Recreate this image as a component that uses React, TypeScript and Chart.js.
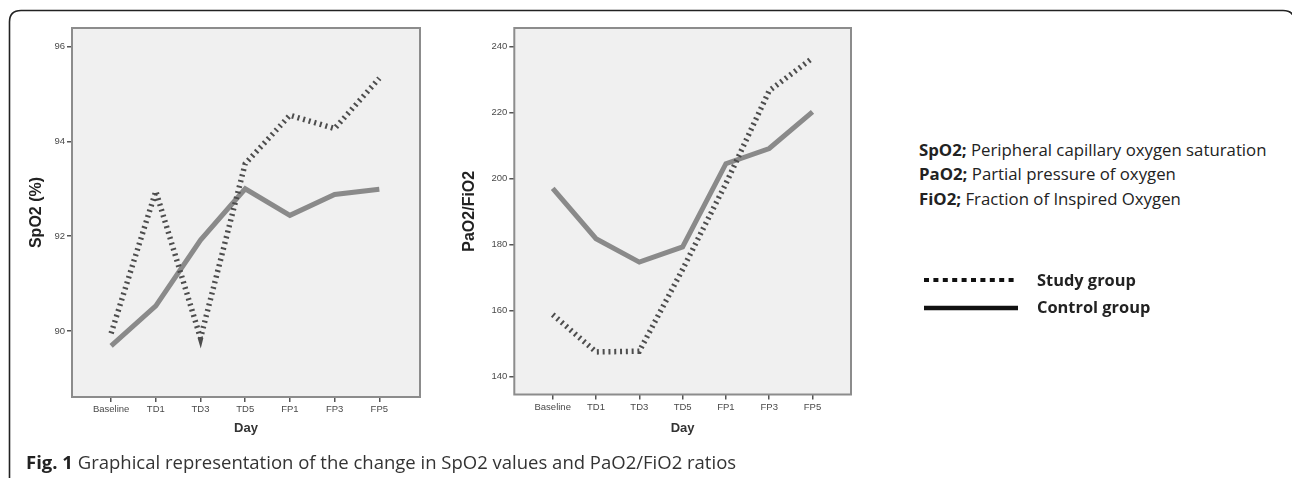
import React, { useEffect, useRef } from 'react';
import { Chart, registerables } from 'chart.js';

Chart.register(...registerables);

const days = ['Baseline', 'TD1', 'TD3', 'TD5', 'FP1', 'FP3', 'FP5'];
const spo2Study = [89.95, 92.95, 89.85, 93.53, 94.55, 94.27, 95.33];
const spo2Control = [89.69, 90.53, 91.92, 93.0, 92.44, 92.88, 92.99];
const pfStudy = [158.8, 147.5, 147.7, 172.5, 198.5, 226.6, 236.5];
const pfControl = [197.0, 181.8, 174.7, 179.3, 204.5, 209.1, 220.2];
const spo2Ticks = [90, 92, 94, 96];
const pfTicks = [140, 160, 180, 200, 220, 240];

const tickFont = { family: '"Liberation Sans", Arial, sans-serif', size: 9.5 };
const titleFontFamily = '"Liberation Sans", Arial, sans-serif';

const plotFrame = {
  id: 'plotFrame',
  beforeDatasetsDraw(chart: any) {
    const { ctx, chartArea: a } = chart;
    ctx.save();
    ctx.fillStyle = '#f0f0f0';
    ctx.fillRect(a.left, a.top, a.right - a.left, a.bottom - a.top);
    ctx.strokeStyle = '#8c8c8c';
    ctx.lineWidth = 2;
    ctx.strokeRect(a.left, a.top, a.right - a.left, a.bottom - a.top);
    ctx.restore();
  },
};

interface Opts {
  study: number[];
  control: number[];
  yTicks: number[];
  yMin: number;
  yMax: number;
  xMin: number;
  xMax: number;
  yTitle: string;
  yWidth: number;
  yTitlePad: number;
  xHeight: number;
  padRight: number;
}

function makeConfig(o: Opts): any {
  return {
    type: 'line',
    data: {
      datasets: [
        {
          label: 'Study group',
          data: o.study.map((v, i) => ({ x: i, y: v })),
          borderColor: '#4d4d4d',
          borderWidth: 5.5,
          borderDash: [2, 3.8],
          borderCapStyle: 'butt',
          borderJoinStyle: 'miter',
          pointRadius: 0,
          tension: 0,
          fill: false,
        },
        {
          label: 'Control group',
          data: o.control.map((v, i) => ({ x: i, y: v })),
          borderColor: '#8a8a8a',
          borderWidth: 5,
          borderCapStyle: 'butt',
          borderJoinStyle: 'miter',
          pointRadius: 0,
          tension: 0,
          fill: false,
        },
      ],
    },
    options: {
      animation: false,
      responsive: false,
      maintainAspectRatio: false,
      layout: { padding: { top: 28, right: o.padRight, left: 0, bottom: 0 } },
      plugins: { legend: { display: false }, tooltip: { enabled: false } },
      scales: {
        x: {
          type: 'linear',
          min: o.xMin,
          max: o.xMax,
          afterBuildTicks: (s: any) => {
            s.ticks = days.map((_, i) => ({ value: i }));
          },
          afterFit: (s: any) => {
            s.height = o.xHeight;
          },
          ticks: {
            autoSkip: false,
            maxRotation: 0,
            padding: 2,
            font: tickFont,
            color: '#4a4a4a',
            callback: (v: number) => days[Math.round(v)],
          },
          grid: {
            drawOnChartArea: false,
            drawTicks: true,
            tickLength: 5,
            tickColor: '#555',
            lineWidth: 1.5,
          },
          border: { display: false },
          title: {
            display: true,
            text: 'Day',
            color: '#333',
            font: { family: titleFontFamily, size: 13, weight: 'bold' },
            padding: { top: 0, bottom: 4 },
          },
        },
        y: {
          type: 'linear',
          min: o.yMin,
          max: o.yMax,
          afterBuildTicks: (s: any) => {
            s.ticks = o.yTicks.map((v) => ({ value: v }));
          },
          afterFit: (s: any) => {
            s.width = o.yWidth;
          },
          ticks: {
            padding: 2,
            font: tickFont,
            color: '#4a4a4a',
          },
          grid: {
            drawOnChartArea: false,
            drawTicks: true,
            tickLength: 5,
            tickColor: '#555',
            lineWidth: 1.5,
          },
          border: { display: false },
          title: {
            display: true,
            text: o.yTitle,
            color: '#222',
            font: { family: titleFontFamily, size: 16, weight: 'bold' },
            padding: { top: o.yTitlePad, bottom: 0 },
          },
        },
      },
    },
    plugins: [plotFrame],
  };
}

function LineChart({ opts, left, width, height }: { opts: Opts; left: number; width: number; height: number }) {
  const ref = useRef<HTMLCanvasElement | null>(null);
  useEffect(() => {
    if (!ref.current) return;
    const chart = new Chart(ref.current, makeConfig(opts));
    return () => chart.destroy();
  }, []);
  return (
    <canvas
      ref={ref}
      width={width}
      height={height}
      style={{ position: 'absolute', left, top: 0, width, height }}
    />
  );
}

const textFont = '"Open Sans", "Noto Sans", sans-serif';

function TextLine({ x, y, size, children, color = '#222' }: any) {
  return (
    <div
      style={{
        position: 'absolute',
        left: x,
        top: y - size * 0.7,
        lineHeight: `${size * 1.4}px`,
        fontSize: size,
        fontFamily: textFont,
        color,
        whiteSpace: 'nowrap',
      }}
    >
      {children}
    </div>
  );
}

export default function App() {
  const leftOpts: Opts = {
    study: spo2Study,
    control: spo2Control,
    yTicks: spo2Ticks,
    yMin: 88.61,
    yMax: 96.39,
    xMin: -0.875,
    xMax: 6.91,
    yTitle: 'SpO2 (%)',
    yWidth: 72,
    yTitlePad: 27.4,
    xHeight: 43,
    padRight: 20,
  };
  const rightOpts: Opts = {
    study: pfStudy,
    control: pfControl,
    yTicks: pfTicks,
    yMin: 134.6,
    yMax: 245.6,
    xMin: -0.887,
    xMax: 6.889,
    yTitle: 'PaO2/FiO2',
    yWidth: 74.3,
    yTitlePad: 20.4,
    xHeight: 45.5,
    padRight: 9,
  };
  return (
    <div style={{ position: 'absolute', left: 0, top: 0, width: 1292, height: 478, background: '#fff', overflow: 'hidden' }}>
      <LineChart opts={leftOpts} left={0} width={440} height={440} />
      <LineChart opts={rightOpts} left={440} width={420} height={440} />

      <TextLine x={919} y={150} size={16.8}>
        <b>SpO2;</b> Peripheral capillary oxygen saturation
      </TextLine>
      <TextLine x={919} y={174} size={16.8}>
        <b>PaO2;</b> Partial pressure of oxygen
      </TextLine>
      <TextLine x={919} y={198.5} size={16.8}>
        <b>FiO2;</b> Fraction of Inspired Oxygen
      </TextLine>

      <svg width={1292} height={478} style={{ position: 'absolute', left: 0, top: 0, pointerEvents: 'none' }}>
        <line x1={924} y1={280} x2={1018} y2={280} stroke="#111" strokeWidth={4} strokeDasharray="5 4.4" />
        <line x1={924} y1={308} x2={1018} y2={308} stroke="#111" strokeWidth={4.5} />
        <path d="M 9.5 478 L 9.5 22 Q 9.5 10.5 21 10.5 L 1283 10.5 Q 1294.5 10.5 1294.5 22 L 1294.5 478" fill="none" stroke="#222" strokeWidth={1.6} />
      </svg>

      <TextLine x={1037} y={280} size={16.4}>
        <b>Study group</b>
      </TextLine>
      <TextLine x={1037} y={307} size={16.4}>
        <b>Control group</b>
      </TextLine>

      <TextLine x={26} y={462} size={18.5} color="#333">
        <b style={{ color: '#222' }}>Fig. 1</b> Graphical representation of the change in SpO2 values and PaO2/FiO2 ratios
      </TextLine>
    </div>
  );
}
